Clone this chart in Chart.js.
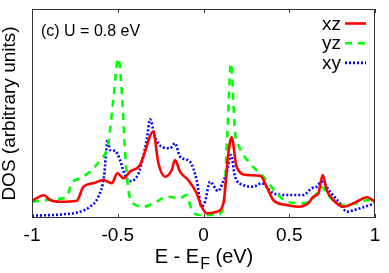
<!DOCTYPE html>
<html>
<head>
<meta charset="utf-8">
<script src="https://cdn.jsdelivr.net/npm/chart.js@4/dist/chart.umd.min.js"></script>
<style>
html,body{margin:0;padding:0;background:#fff;}
#wrap{width:389px;height:273px;position:relative;}
</style>
</head>
<body>
<div id="wrap"><canvas id="c" width="389" height="273"></canvas></div>
<script>
// ---- data (energy in eV, DOS in arbitrary units) ----
const xzE   = [-1, -0.93, -0.895, -0.837, -0.739, -0.70, -0.643, -0.584, -0.535, -0.502, -0.467, -0.429, -0.370, -0.351, -0.293, -0.263, -0.224, -0.185, -0.166, -0.137, -0.089, -0.040, -0.011, 0.019, 0.077, 0.116, 0.145, 0.164, 0.193, 0.252, 0.333, 0.368, 0.407, 0.485, 0.553, 0.611, 0.640, 0.670, 0.695, 0.718, 0.757, 0.815, 0.893, 0.952, 1.0];
const xzDOS = [17.3, 22.7, 18, 16.3, 17.3, 31.3, 34.7, 38, 34.7, 44.7, 39.7, 46.3, 53, 61.3, 86.3, 54.7, 41.3, 48, 58, 46.3, 38, 24.7, 11.3, 4.7, 6.3, 14.7, 64.7, 80.7, 51.3, 43, 42, 31.3, 18, 13, 11.3, 14.7, 21.3, 24.7, 43, 28, 18, 11.3, 16.3, 20.7, 16.3];

const yzE   = [-1, -0.856, -0.798, -0.769, -0.720, -0.662, -0.603, -0.555, -0.526, -0.497, -0.477, -0.458, -0.438, -0.409, -0.351, -0.273, -0.215, -0.137, -0.098, -0.069, -0.020, 0.077, 0.116, 0.139, 0.160, 0.184, 0.203, 0.271, 0.349, 0.427, 0.485, 0.582, 0.640, 0.689, 0.718, 0.796, 0.893, 0.961, 1.0];
const yzDOS = [16.3, 19, 21.3, 34.7, 39.7, 46.3, 58, 74.7, 118, 159.7, 128, 68, 28, 14.7, 11.3, 16.3, 21.3, 19.7, 23, 8, 3, 3, 11.3, 84.7, 154.7, 84.7, 73, 54.7, 41.3, 24.7, 16.3, 14.7, 19.7, 31.3, 24.7, 13, 14.7, 18, 17.3];

const xyE   = [-1, -0.817, -0.720, -0.662, -0.613, -0.580, -0.559, -0.545, -0.516, -0.487, -0.458, -0.429, -0.380, -0.351, -0.331, -0.312, -0.283, -0.244, -0.195, -0.166, -0.137, -0.079, -0.040, -0.011, 0.009, 0.038, 0.085, 0.116, 0.135, 0.160, 0.184, 0.232, 0.290, 0.339, 0.407, 0.485, 0.582, 0.631, 0.660, 0.689, 0.738, 0.796, 0.835, 0.893, 0.971, 1.0];
const xyDOS = [2.3, 3.7, 6.3, 11.3, 21.3, 41.3, 78, 68, 67.3, 58, 43, 37, 44, 62, 78, 98.7, 81.3, 71.3, 69.7, 74.7, 61.3, 56.3, 38, 11.3, 16.3, 36.3, 27, 37, 44.7, 63, 41.3, 33, 31.3, 34.7, 24.7, 23, 23, 29.7, 31.3, 36.3, 26.3, 14.7, 6.3, 8.7, 13, 14.7];

const seriesLabels = ['xz', 'yz', 'xy'];
const xTickValues  = [-1, -0.5, 0, 0.5, 1];
const xTickLabels  = ['-1', '-0.5', '0', '0.5', '1'];
const panelLabel   = '(c) U = 0.8 eV';
const yTitle       = 'DOS (arbitrary units)';

function pts(E, D){ return E.map((e,i)=>({x:e, y:D[i]})); }

const FONT = '"Liberation Sans", Arial, Helvetica, sans-serif';

const decorPlugin = {
  id: 'decor',
  afterDatasetsDraw(chart){
    const ctx = chart.ctx, a = chart.chartArea, xs = chart.scales.x;
    ctx.save();
    // frame
    ctx.strokeStyle = '#333'; ctx.lineWidth = 1;
    ctx.strokeRect(Math.round(a.left)+0.5, Math.round(a.top)+0.5, Math.round(a.right-a.left)-1, Math.round(a.bottom-a.top)-1);
    // inner ticks top & bottom
    xTickValues.forEach(v=>{
      const px = Math.round(xs.getPixelForValue(v))+0.5;
      ctx.beginPath();
      ctx.moveTo(px, a.top); ctx.lineTo(px, a.top+4);
      ctx.moveTo(px, a.bottom); ctx.lineTo(px, a.bottom-4);
      ctx.stroke();
    });
    // panel label
    ctx.fillStyle = '#000';
    ctx.font = '16px ' + FONT;
    ctx.textAlign = 'left'; ctx.textBaseline = 'alphabetic';
    ctx.fillText(panelLabel, a.left + 9, a.top + 27);
    // legend
    ctx.font = '19px ' + FONT;
    ctx.textAlign = 'right';
    chart.data.datasets.forEach((ds,i)=>{
      const base = a.top + 20.5 + i*19.7;
      ctx.fillStyle = '#000';
      ctx.fillText(ds.label, a.right - 34, base);
      const ly = base - 6;
      ctx.beginPath();
      ctx.strokeStyle = ds.borderColor;
      ctx.lineWidth = ds.borderWidth;
      ctx.setLineDash(ds.borderDash || []);
      ctx.moveTo(a.right - 30, ly); ctx.lineTo(a.right - 9, ly);
      ctx.stroke();
    });
    ctx.setLineDash([]);
    // x title with subscript F
    const p1 = 'E - E', p2 = 'F', p3 = ' (eV)';
    ctx.textAlign = 'left';
    ctx.font = '20px ' + FONT; const w1 = ctx.measureText(p1).width, w3 = ctx.measureText(p3).width;
    ctx.font = '16px ' + FONT; const w2 = ctx.measureText(p2).width;
    const cx = xs.getPixelForValue(0);
    let x0 = cx - (w1+w2+w3)/2;
    const by = 263;
    ctx.fillStyle = '#000';
    ctx.font = '20px ' + FONT; ctx.fillText(p1, x0, by);
    ctx.font = '16px ' + FONT; ctx.fillText(p2, x0 + w1 + 1, by + 6);
    ctx.font = '20px ' + FONT; ctx.fillText(p3, x0 + w1 + w2 + 1, by);
    ctx.restore();
  }
};

const chart = new Chart(document.getElementById('c'), {
  type: 'line',
  data: {
    datasets: [
      { label: seriesLabels[0], data: pts(xzE, xzDOS), borderColor: '#ff0000', borderWidth: 2.6, borderDash: [], pointRadius: 0, cubicInterpolationMode: 'monotone', fill: false },
      { label: seriesLabels[1], data: pts(yzE, yzDOS), borderColor: '#00ff00', borderWidth: 2.6, borderDash: [7, 6], pointRadius: 0, cubicInterpolationMode: 'monotone', fill: false },
      { label: seriesLabels[2], data: pts(xyE, xyDOS), borderColor: '#0000ff', borderWidth: 2.6, borderDash: [2, 2], pointRadius: 0, cubicInterpolationMode: 'monotone', fill: false }
    ]
  },
  options: {
    responsive: false,
    animation: false,
    devicePixelRatio: 1,
    layout: { padding: { left: 0, right: 14, top: 9, bottom: 0 } },
    plugins: { legend: { display: false }, tooltip: { enabled: false } },
    scales: {
      x: {
        type: 'linear', min: -1, max: 1,
        afterBuildTicks: s => { s.ticks = xTickValues.map(v => ({ value: v })); },
        ticks: {
          callback: (v) => { const i = xTickValues.indexOf(v); return i >= 0 ? xTickLabels[i] : ''; },
          font: { size: 19, family: FONT }, color: '#000', padding: 6, maxRotation: 0, autoSkip: false
        },
        grid: { display: false, drawTicks: false },
        border: { display: false },
        afterFit: s => { s.height = 55; }
      },
      y: {
        min: 0, max: 209,
        ticks: { display: false },
        grid: { display: false, drawTicks: false },
        border: { display: false },
        title: { display: true, text: yTitle, font: { size: 19, family: FONT, lineHeight: 1 }, color: '#000', padding: 0 },
        afterFit: s => { s.width = 32; }
      }
    }
  },
  plugins: [decorPlugin]
});
</script>
</body>
</html>
